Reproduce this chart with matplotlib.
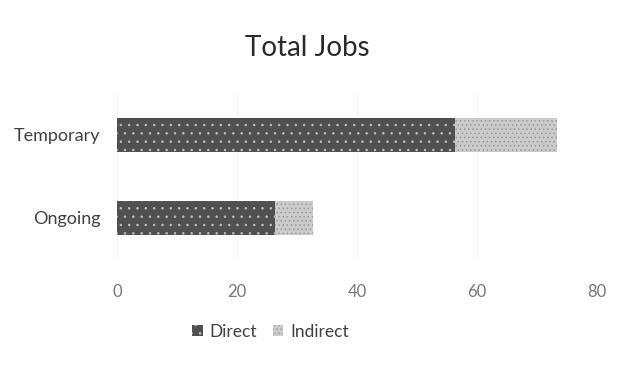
import matplotlib.pyplot as plt
from matplotlib.patches import Patch

plt.rcParams['font.family'] = ['Lato', 'DejaVu Sans']
plt.rcParams['hatch.linewidth'] = 0.6

# Data
categories = ['Ongoing', 'Temporary']
direct = [26.3, 56.4]
indirect = [6.3, 17.0]
x_ticks = [0, 20, 40, 60, 80]

direct_color = '#505050'
indirect_color = '#cbcbcb'

fig = plt.figure(figsize=(6.2, 3.66), dpi=100)
ax = fig.add_axes([0.189, 0.291, 0.774, 0.454])

pos = list(range(len(categories)))
ax.barh(pos, direct, height=0.41, color=direct_color, hatch='..',
        edgecolor='#bdbdbd', linewidth=0)
ax.barh(pos, indirect, left=direct, height=0.41, color=indirect_color,
        hatch='....', edgecolor='#9a9a9a', linewidth=0)

ax.set_xlim(0, 80)
ax.set_ylim(-0.5, 1.5)
ax.set_xticks(x_ticks)
ax.set_yticks(pos)
ax.set_yticklabels(categories)
ax.tick_params(axis='x', labelsize=12, colors='#777777', length=0, pad=18)
ax.tick_params(axis='y', labelsize=13, colors='#404040', length=0, pad=12)
ax.grid(axis='x', color='#f3f3f3', linewidth=0.8)
ax.set_axisbelow(True)
for s in ax.spines.values():
    s.set_visible(False)

fig.text(0.496, 0.868, 'Total Jobs', ha='center', va='center',
         fontsize=20, color='#2a2a2a')

handles = [Patch(facecolor=direct_color, hatch='..', edgecolor='#bdbdbd', linewidth=0),
           Patch(facecolor=indirect_color, hatch='....', edgecolor='#9a9a9a', linewidth=0)]
fig.legend(handles, ['Direct', 'Indirect'], loc='center', bbox_to_anchor=(0.436, 0.093),
           ncol=2, frameon=False, fontsize=12.5, handlelength=0.6, handleheight=0.6,
           handletextpad=0.4, columnspacing=0.9, labelcolor='#404040')

fig.savefig('out.png', dpi=100, facecolor='white')
